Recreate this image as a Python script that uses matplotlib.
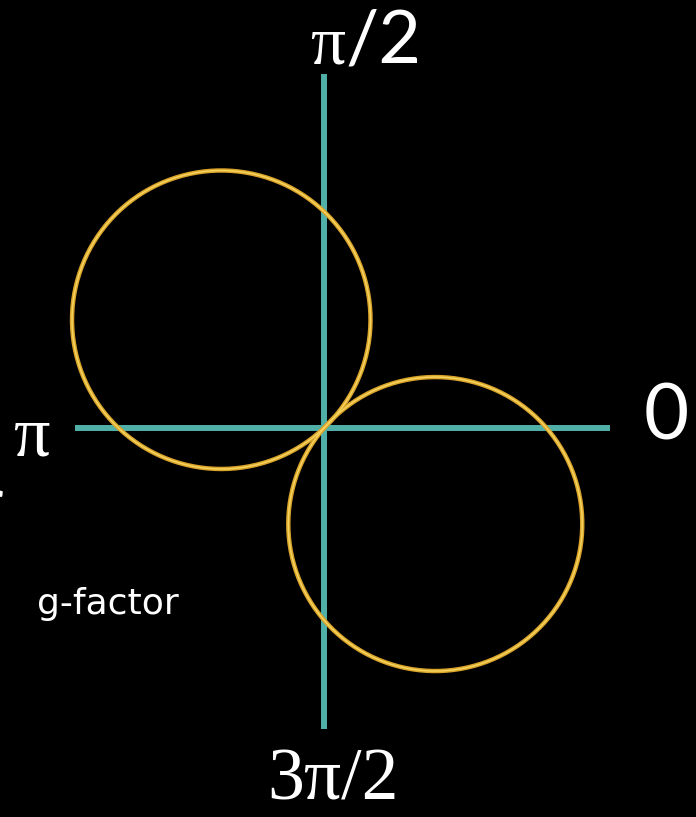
import numpy as np
import matplotlib.pyplot as plt

# dipole lobes r = g * cos(theta - phi), one lobe per direction
lobe_g = [1.99, 1.96]          # lobe diameters (axis units)
lobe_phi = [133.5, -40.8]      # lobe directions, degrees

# angle labels around the cross
serif_labels = ["\u03c0", "\u03c0", "3\u03c0/2"]
sans_labels = ["/2", "0", "g-factor"]

W, H = 696, 817
S = 150.0                      # pixels per axis unit
ox, oy = 324, 428              # origin in pixels

cyan = "#50b0a8"
gold_dark = "#d9a42a"
gold_light = "#f6d35e"

fig = plt.figure(figsize=(W / 100, H / 100), dpi=100, facecolor="black")
ax = fig.add_axes([0, 0, 1, 1])
ax.set_facecolor("black")
ax.set_xlim(-ox / S, (W - ox) / S)
ax.set_ylim(-(H - oy) / S, oy / S)
ax.set_aspect("equal")
ax.axis("off")

# cross of axes
ax.plot([-(ox - 75) / S, (610 - ox) / S], [0, 0], color=cyan, lw=4.3,
        solid_capstyle="butt", zorder=2)
ax.plot([0, 0], [-(729 - oy) / S, (oy - 74) / S], color=cyan, lw=4.3,
        solid_capstyle="butt", zorder=2)

# lobes
for g, phi in zip(lobe_g, lobe_phi):
    p = np.deg2rad(phi)
    th = np.linspace(p - np.pi / 2, p + np.pi / 2, 400)
    r = g * np.cos(th - p)
    x, y = r * np.cos(th), r * np.sin(th)
    ax.plot(x, y, color=gold_dark, lw=3.2, zorder=3)
    ax.plot(x, y, color=gold_light, lw=1.1, zorder=4)


def px(x, y):
    return x / W, 1 - y / H


serif = "Liberation Serif"
sans = "Lato"

# pi/2 on top
fig.text(*px(310, 63), serif_labels[0], family=serif, fontsize=50,
         color="white", va="baseline", ha="left")
fig.text(*px(346, 63), sans_labels[0], family=sans, fontsize=53,
         color="white", va="baseline", ha="left")
# pi on the left
fig.text(*px(13, 456), serif_labels[1], family=serif, fontsize=52,
         color="white", va="baseline", ha="left")
# 0 on the right
fig.text(*px(644, 440), sans_labels[1], family=sans, fontsize=56,
         color="white", va="baseline", ha="left")
# 3pi/2 at the bottom
fig.text(*px(267, 815), serif_labels[2], family=serif, fontsize=53,
         color="white", va="bottom", ha="left")
# caption
fig.text(*px(37, 614), sans_labels[2], family="DejaVu Sans", fontsize=26,
         color="white", va="baseline", ha="left")
# clipped letter at the left edge
fig.text(*px(3, 527), "r", family=sans, fontsize=52,
         color="white", va="baseline", ha="right")

fig.savefig("out.png", dpi=100, facecolor="black")
